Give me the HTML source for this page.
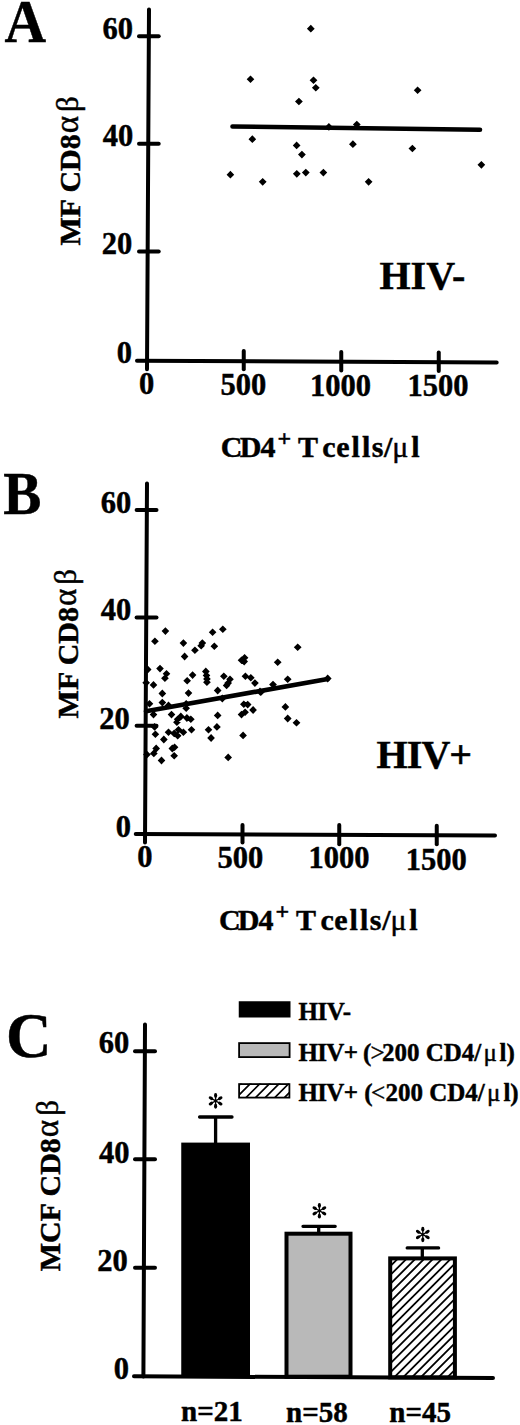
<!DOCTYPE html>
<html><head><meta charset="utf-8"><title>Figure</title>
<style>
html,body{margin:0;padding:0;background:#fff;}
body{width:520px;height:1425px;overflow:hidden;position:relative;}
svg{position:absolute;left:0;top:0;display:block;}
text{font-family:"Liberation Serif",serif;font-weight:bold;fill:#000;stroke:#000;stroke-width:0.45px;}
.gr{font-weight:normal;}
.ax{stroke:#000;stroke-width:4;fill:none;stroke-linecap:round;}
.rl{stroke:#000;stroke-width:4.6;fill:none;stroke-linecap:round;}
.eb{stroke:#000;stroke-width:3.3;fill:none;stroke-linecap:round;}
.dt{fill:#000;}
</style></head>
<body>
<svg width="520" height="1425" viewBox="0 0 520 1425">
<defs>
</defs>
<text x="4.5" y="41.5" font-size="61" text-anchor="start" textLength="41.6" lengthAdjust="spacingAndGlyphs">A</text>
<path d="M149 9.4L147 369.3" class="ax"/>
<path d="M137 360.7L496.7 362.5" class="ax"/>
<path d="M139 36.2L158.7 36.2" class="ax"/>
<path d="M139 143.8L158.7 143.8" class="ax"/>
<path d="M139 251.5L158.7 251.5" class="ax"/>
<path d="M243.75 351L243.75 369.3" class="ax"/>
<path d="M341.25 352L341.25 370.5" class="ax"/>
<path d="M438.75 352.5L438.75 371" class="ax"/>
<text x="133" y="38.5" font-size="30.5" text-anchor="end" >60</text>
<text x="133.3" y="145.8" font-size="30.5" text-anchor="end" >40</text>
<text x="132.3" y="254.2" font-size="30.5" text-anchor="end" >20</text>
<text x="132" y="362.75" font-size="30.5" text-anchor="end" >0</text>
<text x="146.5" y="393.75" font-size="30.5" text-anchor="middle" >0</text>
<text x="243.4" y="395" font-size="30.5" text-anchor="middle" >500</text>
<text x="340.6" y="395.5" font-size="30.5" text-anchor="middle" >1000</text>
<text x="438" y="396" font-size="30.5" text-anchor="middle" >1500</text>
<text x="0" y="0" font-size="30" transform="translate(80.2 245.6) rotate(-90)">MF CD8<tspan class="gr" font-size="33" dx="1" dy="-2">&#945;</tspan><tspan class="gr" font-size="31" dx="4">&#946;</tspan></text>
<text x="379.5" y="289.2" font-size="40" text-anchor="start" >HIV-</text>
<text y="457.3" font-size="30"><tspan x="220.84">C</tspan><tspan x="239.77">D</tspan><tspan x="260.39">4</tspan></text><text x="277.50" y="445.8" font-size="24">+</text><text y="457.3" font-size="30"><tspan x="297.93">T</tspan><tspan x="322.37">c</tspan><tspan x="336.27">e</tspan><tspan x="351.51">l</tspan><tspan x="361.91">l</tspan><tspan x="371.69">s</tspan><tspan x="384.09">/</tspan></text><text x="392.30" y="457.3" font-size="30" class="gr">&#956;</text><text x="411.21" y="457.3" font-size="30">l</text>
<path d="M232.5 126.5L480 129.8" class="rl"/>
<path d="M310.8 24.8L314.7 28.7L310.8 32.5L306.9 28.7ZM250.5 75.4L254.3 79.2L250.5 83.0L246.7 79.2ZM313.5 76.5L317.4 80.3L313.5 84.1L309.6 80.3ZM315.8 83.9L319.7 87.7L315.8 91.5L311.9 87.7ZM417.6 86.5L421.5 90.3L417.6 94.1L413.8 90.3ZM298.9 97.7L302.8 101.5L298.9 105.3L295.0 101.5ZM328.9 123.1L332.8 126.9L328.9 130.8L325.0 126.9ZM356.8 120.7L360.7 124.5L356.8 128.3L352.9 124.5ZM252.3 135.3L256.2 139.2L252.3 143.0L248.5 139.2ZM352.9 140.3L356.8 144.2L352.9 148.0L349.0 144.2ZM296.6 141.6L300.5 145.4L296.6 149.2L292.8 145.4ZM412.4 144.7L416.2 148.5L412.4 152.3L408.5 148.5ZM301.9 150.8L305.8 154.6L301.9 158.4L298.0 154.6ZM481.4 161.0L485.2 164.8L481.4 168.7L477.5 164.8ZM305.8 168.8L309.7 172.6L305.8 176.4L301.9 172.6ZM323.4 168.8L327.2 172.6L323.4 176.4L319.5 172.6ZM296.8 170.0L300.7 173.8L296.8 177.7L292.9 173.8ZM230.4 170.8L234.2 174.7L230.4 178.5L226.6 174.7ZM262.7 178.0L266.6 181.8L262.7 185.7L258.8 181.8ZM368.6 178.0L372.5 181.8L368.6 185.7L364.8 181.8Z" class="dt"/>
<text x="3.2" y="514" font-size="61" text-anchor="start" textLength="38.2" lengthAdjust="spacingAndGlyphs">B</text>
<path d="M147 483.5L145 842.4" class="ax"/>
<path d="M135.75 834.1L495 835.5" class="ax"/>
<path d="M136.6 510L156.5 510" class="ax"/>
<path d="M136.6 617.4L156.5 617.4" class="ax"/>
<path d="M136.6 725.8L156.5 725.8" class="ax"/>
<path d="M242.5 825L242.5 842.5" class="ax"/>
<path d="M339.25 825L339.25 844.2" class="ax"/>
<path d="M436.75 825.7L436.75 844.2" class="ax"/>
<text x="131.2" y="512.6" font-size="30.5" text-anchor="end" >60</text>
<text x="131.3" y="619.5" font-size="30.5" text-anchor="end" >40</text>
<text x="129.7" y="728.5" font-size="30.5" text-anchor="end" >20</text>
<text x="130.9" y="836.5" font-size="30.5" text-anchor="end" >0</text>
<text x="144.9" y="867.25" font-size="30.5" text-anchor="middle" >0</text>
<text x="240.4" y="867.5" font-size="30.5" text-anchor="middle" >500</text>
<text x="339" y="868" font-size="30.5" text-anchor="middle" >1000</text>
<text x="436.25" y="869.5" font-size="30.5" text-anchor="middle" >1500</text>
<text x="0" y="0" font-size="30" transform="translate(78 718.4) rotate(-90)">MF CD8<tspan class="gr" font-size="33" dx="1" dy="-2">&#945;</tspan><tspan class="gr" font-size="31" dx="4">&#946;</tspan></text>
<text x="376.5" y="768" font-size="40" text-anchor="start" letter-spacing="-0.9">HIV+</text>
<text y="930" font-size="30"><tspan x="218.94">C</tspan><tspan x="237.87">D</tspan><tspan x="258.49">4</tspan></text><text x="275.60" y="918.5" font-size="24">+</text><text y="930" font-size="30"><tspan x="296.03">T</tspan><tspan x="320.47">c</tspan><tspan x="334.37">e</tspan><tspan x="349.61">l</tspan><tspan x="360.01">l</tspan><tspan x="369.79">s</tspan><tspan x="382.19">/</tspan></text><text x="390.40" y="930" font-size="30" class="gr">&#956;</text><text x="409.31" y="930" font-size="30">l</text>
<path d="M146 711.3L327.7 678.9" class="rl"/>
<path d="M165.4 627.2L169.2 631.1L165.4 635.0L161.6 631.1ZM154.9 637.4L158.8 641.2L154.9 645.1L151.1 641.2ZM183.4 639.2L187.2 643.1L183.4 647.0L179.6 643.1ZM202.3 639.2L206.2 643.1L202.3 647.0L198.5 643.1ZM201.2 641.9L205.0 645.8L201.2 649.6L197.3 645.8ZM212.6 628.4L216.4 632.3L212.6 636.1L208.8 632.3ZM214.3 642.4L218.2 646.2L214.3 650.1L210.5 646.2ZM194.9 646.4L198.8 650.3L194.9 654.1L191.1 650.3ZM184.6 652.6L188.4 656.5L184.6 660.4L180.8 656.5ZM147.7 665.6L151.5 669.5L147.7 673.4L143.8 669.5ZM160.0 664.8L163.8 668.6L160.0 672.5L156.2 668.6ZM166.5 669.9L170.3 673.8L166.5 677.6L162.7 673.8ZM164.9 674.4L168.8 678.2L164.9 682.1L161.1 678.2ZM153.5 681.0L157.3 684.9L153.5 688.8L149.7 684.9ZM146.2 678.9L150.0 682.8L146.2 686.6L142.3 682.8ZM162.3 689.6L166.2 693.5L162.3 697.4L158.5 693.5ZM192.6 671.2L196.4 675.1L192.6 679.0L188.8 675.1ZM187.2 676.9L191.0 680.8L187.2 684.6L183.3 680.8ZM205.8 667.6L209.7 671.5L205.8 675.4L202.0 671.5ZM206.5 671.5L210.3 675.4L206.5 679.2L202.7 675.4ZM206.9 675.0L210.8 678.9L206.9 682.8L203.1 678.9ZM206.9 678.4L210.8 682.3L206.9 686.1L203.1 682.3ZM188.5 689.2L192.3 693.1L188.5 697.0L184.7 693.1ZM217.7 686.6L221.5 690.5L217.7 694.4L213.8 690.5ZM222.8 625.4L226.7 629.2L222.8 633.1L219.0 629.2ZM244.6 653.9L248.4 657.7L244.6 661.6L240.8 657.7ZM241.5 656.4L245.3 660.3L241.5 664.1L237.7 660.3ZM244.2 657.6L248.0 661.5L244.2 665.4L240.3 661.5ZM277.7 658.4L281.6 662.3L277.7 666.1L273.8 662.3ZM223.8 672.4L227.7 676.2L223.8 680.1L220.0 676.2ZM230.0 675.4L233.8 679.2L230.0 683.1L226.2 679.2ZM228.2 679.2L232.0 683.1L228.2 687.0L224.3 683.1ZM226.6 681.5L230.4 685.4L226.6 689.2L222.8 685.4ZM245.4 672.4L249.2 676.2L245.4 680.1L241.6 676.2ZM250.8 673.9L254.7 677.7L250.8 681.6L247.0 677.7ZM254.9 679.2L258.8 683.1L254.9 687.0L251.1 683.1ZM287.7 675.4L291.6 679.2L287.7 683.1L283.8 679.2ZM273.0 680.8L276.9 684.6L273.0 688.5L269.1 684.6ZM260.0 687.6L263.9 691.5L260.0 695.4L256.1 691.5ZM297.7 643.4L301.6 647.2L297.7 651.1L293.8 647.2ZM327.7 674.6L331.6 678.5L327.7 682.4L323.8 678.5ZM285.4 703.0L289.2 706.9L285.4 710.8L281.5 706.9ZM149.5 699.9L153.3 703.8L149.5 707.6L145.7 703.8ZM162.3 698.8L166.2 702.6L162.3 706.5L158.5 702.6ZM168.5 701.5L172.3 705.4L168.5 709.2L164.7 705.4ZM186.2 699.9L190.0 703.8L186.2 707.6L182.3 703.8ZM186.2 704.4L190.0 708.2L186.2 712.1L182.3 708.2ZM153.5 710.8L157.3 714.6L153.5 718.5L149.7 714.6ZM171.5 710.8L175.3 714.6L171.5 718.5L167.7 714.6ZM180.8 712.6L184.7 716.5L180.8 720.4L177.0 716.5ZM177.7 715.4L181.5 719.2L177.7 723.1L173.8 719.2ZM176.9 718.4L180.8 722.3L176.9 726.1L173.1 722.3ZM186.9 714.1L190.8 718.0L186.9 721.9L183.1 718.0ZM190.8 715.4L194.7 719.2L190.8 723.1L187.0 719.2ZM217.7 711.5L221.5 715.4L217.7 719.2L213.8 715.4ZM154.6 723.0L158.4 726.9L154.6 730.8L150.8 726.9ZM155.4 730.4L159.2 734.3L155.4 738.1L151.6 734.3ZM163.8 735.6L167.7 739.5L163.8 743.4L160.0 739.5ZM168.5 728.4L172.3 732.3L168.5 736.1L164.7 732.3ZM174.2 729.5L178.0 733.4L174.2 737.2L170.3 733.4ZM177.7 731.9L181.5 735.8L177.7 739.6L173.8 735.8ZM178.5 725.9L182.3 729.7L178.5 733.6L174.7 729.7ZM183.4 728.4L187.2 732.3L183.4 736.1L179.6 732.3ZM191.5 725.9L195.3 729.7L191.5 733.6L187.7 729.7ZM208.5 725.9L212.3 729.7L208.5 733.6L204.7 729.7ZM211.1 734.1L214.9 738.0L211.1 741.9L207.2 738.0ZM216.9 723.0L220.8 726.9L216.9 730.8L213.1 726.9ZM156.2 744.6L160.0 748.5L156.2 752.4L152.3 748.5ZM153.8 749.5L157.7 753.4L153.8 757.2L150.0 753.4ZM146.9 750.8L150.8 754.6L146.9 758.5L143.1 754.6ZM161.5 756.6L165.3 760.5L161.5 764.4L157.7 760.5ZM172.3 744.6L176.2 748.5L172.3 752.4L168.5 748.5ZM174.6 743.4L178.4 747.2L174.6 751.1L170.8 747.2ZM174.2 751.9L178.0 755.8L174.2 759.6L170.3 755.8ZM222.3 694.6L226.2 698.5L222.3 702.4L218.5 698.5ZM243.8 700.4L247.7 704.2L243.8 708.1L240.0 704.2ZM247.7 700.8L251.5 704.6L247.7 708.5L243.8 704.6ZM253.1 706.1L256.9 710.0L253.1 713.9L249.2 710.0ZM245.1 708.4L248.9 712.3L245.1 716.1L241.2 712.3ZM241.5 710.8L245.3 714.6L241.5 718.5L237.7 714.6ZM243.1 731.5L246.9 735.4L243.1 739.2L239.2 735.4ZM228.2 753.5L232.0 757.4L228.2 761.2L224.3 757.4ZM287.7 714.6L291.6 718.5L287.7 722.4L283.8 718.5ZM260.8 688.4L264.7 692.3L260.8 696.1L256.9 692.3ZM296.5 718.9L300.4 722.8L296.5 726.6L292.6 722.8Z" class="dt"/>
<text x="6" y="1056.5" font-size="63" text-anchor="start" >C</text>
<path d="M145 1024.4L143.4 1376.5" class="ax"/>
<path d="M134 1376.3L493 1378" class="ax"/>
<path d="M135 1051.2L155 1051.2" class="ax"/>
<path d="M135 1159.2L155 1159.2" class="ax"/>
<path d="M135 1267.7L155 1267.7" class="ax"/>
<text x="129.2" y="1053.2" font-size="30.5" text-anchor="end" >60</text>
<text x="129.5" y="1162.6" font-size="30.5" text-anchor="end" >40</text>
<text x="127.7" y="1270.5" font-size="30.5" text-anchor="end" >20</text>
<text x="129" y="1378.75" font-size="30.5" text-anchor="end" >0</text>
<text x="0" y="0" font-size="30" transform="translate(59.8 1271.2) rotate(-90)">MCF CD8<tspan class="gr" font-size="33" dx="1" dy="-2">&#945;</tspan><tspan class="gr" font-size="31" dx="4">&#946;</tspan></text>
<rect x="181.25" y="1142.6" width="68.75" height="234" class="dt"/>
<rect x="286.5" y="1233.7" width="64" height="143" fill="#b9b9b9" stroke="#000" stroke-width="4"/>
<clipPath id="cb3"><rect x="390" y="1258" width="65" height="119"/></clipPath><g clip-path="url(#cb3)" stroke="#000" stroke-width="1.8"><path d="M258.80 1380L383.80 1255M267.65 1380L392.65 1255M276.50 1380L401.50 1255M285.35 1380L410.35 1255M294.20 1380L419.20 1255M303.05 1380L428.05 1255M311.90 1380L436.90 1255M320.75 1380L445.75 1255M329.60 1380L454.60 1255M338.45 1380L463.45 1255M347.30 1380L472.30 1255M356.15 1380L481.15 1255M365.00 1380L490.00 1255M373.85 1380L498.85 1255M382.70 1380L507.70 1255M391.55 1380L516.55 1255M400.40 1380L525.40 1255M409.25 1380L534.25 1255M418.10 1380L543.10 1255M426.95 1380L551.95 1255M435.80 1380L560.80 1255M444.65 1380L569.65 1255M453.50 1380L578.50 1255"/></g>
<rect x="390.2" y="1258.4" width="64.7" height="119" fill="none" stroke="#000" stroke-width="4"/>
<path d="M215.6 1117L215.6 1143M199.6 1117L232 1117" class="eb"/>
<path d="M318.7 1226.3L318.7 1232M303 1226.3L335.2 1226.3" class="eb"/>
<path d="M422.3 1247.9L422.3 1256.5M407.2 1247.9L438.6 1247.9" class="eb"/>
<g transform="translate(215.6 1100.9) scale(1.0)"><g transform="rotate(0)"><path d="M0 0L0 -4.2" stroke="#000" stroke-width="1.3"/><ellipse cx="0" cy="-5.35" rx="1.6" ry="2.45" fill="#000"/></g><g transform="rotate(60)"><path d="M0 0L0 -4.2" stroke="#000" stroke-width="1.3"/><ellipse cx="0" cy="-5.35" rx="1.6" ry="2.45" fill="#000"/></g><g transform="rotate(120)"><path d="M0 0L0 -4.2" stroke="#000" stroke-width="1.3"/><ellipse cx="0" cy="-5.35" rx="1.6" ry="2.45" fill="#000"/></g><g transform="rotate(180)"><path d="M0 0L0 -4.2" stroke="#000" stroke-width="1.3"/><ellipse cx="0" cy="-5.35" rx="1.6" ry="2.45" fill="#000"/></g><g transform="rotate(240)"><path d="M0 0L0 -4.2" stroke="#000" stroke-width="1.3"/><ellipse cx="0" cy="-5.35" rx="1.6" ry="2.45" fill="#000"/></g><g transform="rotate(300)"><path d="M0 0L0 -4.2" stroke="#000" stroke-width="1.3"/><ellipse cx="0" cy="-5.35" rx="1.6" ry="2.45" fill="#000"/></g><circle r="1.3" fill="#000"/></g>
<g transform="translate(319.4 1210.8) scale(1.0)"><g transform="rotate(0)"><path d="M0 0L0 -4.2" stroke="#000" stroke-width="1.3"/><ellipse cx="0" cy="-5.35" rx="1.6" ry="2.45" fill="#000"/></g><g transform="rotate(60)"><path d="M0 0L0 -4.2" stroke="#000" stroke-width="1.3"/><ellipse cx="0" cy="-5.35" rx="1.6" ry="2.45" fill="#000"/></g><g transform="rotate(120)"><path d="M0 0L0 -4.2" stroke="#000" stroke-width="1.3"/><ellipse cx="0" cy="-5.35" rx="1.6" ry="2.45" fill="#000"/></g><g transform="rotate(180)"><path d="M0 0L0 -4.2" stroke="#000" stroke-width="1.3"/><ellipse cx="0" cy="-5.35" rx="1.6" ry="2.45" fill="#000"/></g><g transform="rotate(240)"><path d="M0 0L0 -4.2" stroke="#000" stroke-width="1.3"/><ellipse cx="0" cy="-5.35" rx="1.6" ry="2.45" fill="#000"/></g><g transform="rotate(300)"><path d="M0 0L0 -4.2" stroke="#000" stroke-width="1.3"/><ellipse cx="0" cy="-5.35" rx="1.6" ry="2.45" fill="#000"/></g><circle r="1.3" fill="#000"/></g>
<g transform="translate(422.8 1234.5) scale(1.0)"><g transform="rotate(0)"><path d="M0 0L0 -4.2" stroke="#000" stroke-width="1.3"/><ellipse cx="0" cy="-5.35" rx="1.6" ry="2.45" fill="#000"/></g><g transform="rotate(60)"><path d="M0 0L0 -4.2" stroke="#000" stroke-width="1.3"/><ellipse cx="0" cy="-5.35" rx="1.6" ry="2.45" fill="#000"/></g><g transform="rotate(120)"><path d="M0 0L0 -4.2" stroke="#000" stroke-width="1.3"/><ellipse cx="0" cy="-5.35" rx="1.6" ry="2.45" fill="#000"/></g><g transform="rotate(180)"><path d="M0 0L0 -4.2" stroke="#000" stroke-width="1.3"/><ellipse cx="0" cy="-5.35" rx="1.6" ry="2.45" fill="#000"/></g><g transform="rotate(240)"><path d="M0 0L0 -4.2" stroke="#000" stroke-width="1.3"/><ellipse cx="0" cy="-5.35" rx="1.6" ry="2.45" fill="#000"/></g><g transform="rotate(300)"><path d="M0 0L0 -4.2" stroke="#000" stroke-width="1.3"/><ellipse cx="0" cy="-5.35" rx="1.6" ry="2.45" fill="#000"/></g><circle r="1.3" fill="#000"/></g>
<rect x="238.75" y="1001.25" width="51.75" height="16.25" class="dt"/>
<rect x="239.1" y="1043.1" width="50.5" height="14" fill="#b9b9b9" stroke="#000" stroke-width="1.8"/>
<clipPath id="cl3"><rect x="239" y="1083.5" width="50" height="14.5"/></clipPath><g clip-path="url(#cl3)" stroke="#000" stroke-width="1.7"><path d="M204.20 1101L224.70 1080.5M213.80 1101L234.30 1080.5M223.40 1101L243.90 1080.5M233.00 1101L253.50 1080.5M242.60 1101L263.10 1080.5M252.20 1101L272.70 1080.5M261.80 1101L282.30 1080.5M271.40 1101L291.90 1080.5M281.00 1101L301.50 1080.5M290.60 1101L311.10 1080.5"/></g>
<rect x="239.1" y="1084.1" width="50.3" height="13.5" fill="none" stroke="#000" stroke-width="1.8"/>
<text x="298.5" y="1020" font-size="25" text-anchor="start" letter-spacing="-0.4">HIV-</text>
<text x="298.5" y="1060.5" font-size="25" letter-spacing="-0.7">HIV+</text><text x="363" y="1060.5" font-size="25">(</text><text x="370.5" y="1060.5" font-size="25" class="gr">&gt;</text><text x="382" y="1060.5" font-size="25">200 CD4/</text><text x="483.5" y="1060.5" font-size="25" class="gr">&#956;</text><text x="499.5" y="1060.5" font-size="25">l)</text>
<text x="298.5" y="1101" font-size="25" letter-spacing="-0.7">HIV+</text><text x="364.2" y="1101" font-size="25">(</text><text x="371" y="1101" font-size="25" class="gr">&lt;</text><text x="385.5" y="1101" font-size="25">200 CD4/</text><text x="487" y="1101" font-size="25" class="gr">&#956;</text><text x="503.4" y="1101" font-size="25">l)</text>
<text x="181" y="1421.25" font-size="29" text-anchor="start" >n=21</text>
<text x="286" y="1422" font-size="29" text-anchor="start" >n=58</text>
<text x="389.3" y="1422" font-size="29" text-anchor="start" >n=45</text>
</svg>
</body></html>
